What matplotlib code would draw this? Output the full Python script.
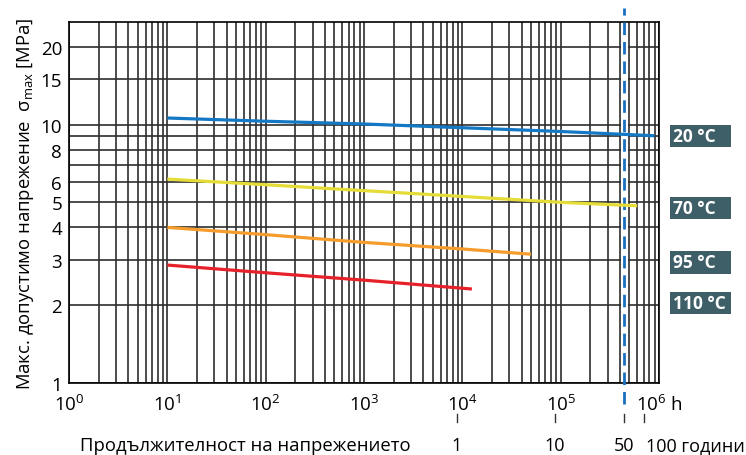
import matplotlib
matplotlib.use('Agg')
import matplotlib.pyplot as plt
from matplotlib.patches import Rectangle
import numpy as np

# stress-rupture curves: time in h, max permissible stress in MPa
t_20 = [1e1, 1e2, 1e3, 1e4, 1e5, 9e5]
s_20 = [10.6, 10.3, 10.05, 9.72, 9.4, 9.05]
t_70 = [1e1, 1e2, 1e3, 1e4, 1e5, 6e5]
s_70 = [6.15, 5.85, 5.55, 5.27, 5.0, 4.85]
t_95 = [1e1, 1e2, 1e3, 1e4, 5e4]
s_95 = [4.0, 3.75, 3.5, 3.3, 3.15]
t_110 = [1e1, 1e2, 1e3, 1.25e4]
s_110 = [2.86, 2.67, 2.5, 2.31]

temps = ['20 °C', '70 °C', '95 °C', '110 °C']
label_y = [9.05, 4.75, 2.93, 2.04]
colors = ['#1479c4', '#e6dc37', '#f59c2c', '#e62129']

yticks = [1, 2, 3, 4, 5, 6, 7, 8, 9, 10, 15, 20]
ylabels = ['1', '2', '3', '4', '5', '6', '', '8', '', '10', '15', '20']
xticks = [1e0, 1e1, 1e2, 1e3, 1e4, 1e5, 1e6]
xlabels = ['$10^{0}$', '$10^{1}$', '$10^{2}$', '$10^{3}$', '$10^{4}$', '$10^{5}$', '$10^{6}$ h']

life_50y = 4.38e5
year_tick_h = [8.76e3, 8.76e4, 4.38e5, 7.1e5]
year_labels = ['1', '10', '50', '100 години']

plt.rcParams['font.family'] = ['Open Sans', 'DejaVu Sans']
plt.rcParams['mathtext.fontset'] = 'custom'
plt.rcParams['mathtext.rm'] = 'Open Sans'
plt.rcParams['mathtext.it'] = 'Open Sans:italic'
plt.rcParams['mathtext.bf'] = 'Open Sans:bold'

fig = plt.figure(figsize=(7.46, 4.56), dpi=100)
ax = fig.add_axes([0.0925, 0.1579, 0.7909, 0.7923])

ax.set_xscale('log')
ax.set_yscale('log')
ax.set_xlim(1, 1e6)
ax.set_ylim(1, 25)

ax.set_yticks(yticks)
ax.set_yticklabels(ylabels)
ax.yaxis.set_minor_locator(matplotlib.ticker.NullLocator())
ax.set_xticks(xticks)
ax.set_xticklabels(xlabels)
ax.xaxis.set_minor_locator(matplotlib.ticker.LogLocator(base=10, subs=np.arange(2, 10), numticks=20))
ax.xaxis.set_minor_formatter(matplotlib.ticker.NullFormatter())
ax.tick_params(which='both', length=0, labelsize=13.5)
ax.tick_params(axis='y', pad=5)
ax.tick_params(axis='x', pad=8)

ax.grid(which='both', axis='x', color='#2e2e2e', lw=1.2)
ax.grid(which='major', axis='y', color='#2e2e2e', lw=1.2)
ax.set_axisbelow(True)
for s in ax.spines.values():
    s.set_color('black')
    s.set_linewidth(1.2)

# 50-year line
ax.plot([life_50y, life_50y], [0, 1], color='white', lw=5, transform=ax.get_xaxis_transform(), zorder=2)
ax.plot([life_50y, life_50y], [-0.058, 1.038], color='#1a6fbf', lw=2, dashes=(4.5, 2.5),
        transform=ax.get_xaxis_transform(), clip_on=False, zorder=3)

for t, s, c in zip([t_20, t_70, t_95, t_110], [s_20, s_70, s_95, s_110], colors):
    ax.plot(t, s, color=c, lw=2.3, solid_capstyle='butt', zorder=4)

# temperature tags on the right
hd = 0.0432
for name, y in zip(temps, label_y):
    ax.add_patch(Rectangle((1.0186, y * 10 ** (-hd)), 0.1034, y * (10 ** hd - 10 ** (-hd)),
                           transform=ax.get_yaxis_transform(), facecolor='#3e5f67',
                           edgecolor='none', clip_on=False))
    ax.text(1.024, y, name, transform=ax.get_yaxis_transform(), color='white',
            fontsize=12.5, fontweight='bold', ha='left', va='center')

# years scale under the hours axis
base_y = 4.5 / 456
for h, lab in zip(year_tick_h, year_labels):
    ax.plot([h, h], [-0.0858, -0.108], color='#333333', lw=1.0,
            transform=ax.get_xaxis_transform(), clip_on=False)
    if lab.startswith('100'):
        fig.text(0.998, base_y, lab, fontsize=13, ha='right', va='baseline')
    else:
        x_fig = fig.transFigure.inverted().transform(ax.transData.transform((h, 1)))[0]
        fig.text(x_fig, base_y, lab, fontsize=13, ha='center', va='baseline')
fig.text(80 / 746, base_y, 'Продължителност на напрежението', fontsize=13.3,
         ha='left', va='baseline')

ax.set_ylabel(r'Макс. допустимо напрежение  $\mathrm{σ}_{\mathrm{max}}$ [MPa]', fontsize=13.3, labelpad=3)

plt.savefig('out.png', dpi=100)
